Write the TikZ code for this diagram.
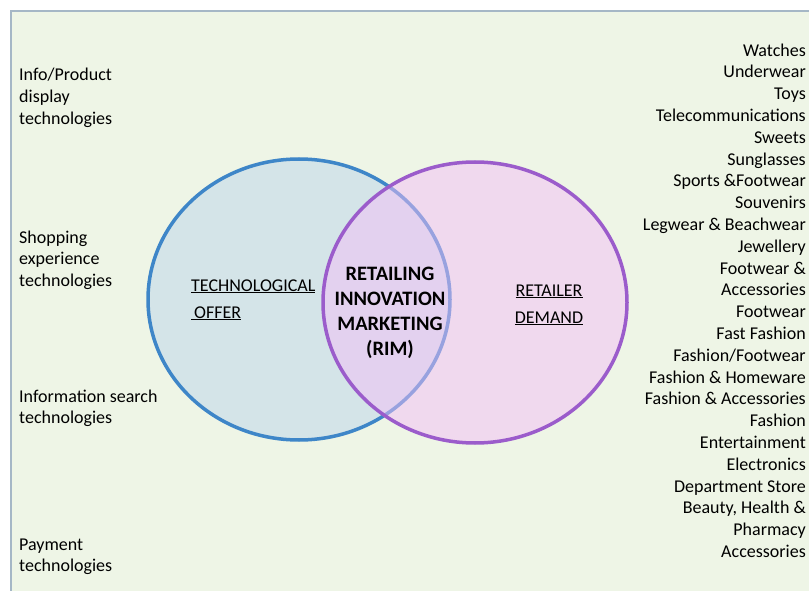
\documentclass[tikz,border=0pt]{standalone}
\usepackage{fontspec}
\setmainfont{Carlito}
\definecolor{paper}{RGB}{238,245,230}
\definecolor{frameline}{RGB}{165,183,198}
\definecolor{offerblue}{RGB}{62,134,200}
\definecolor{offerfill}{RGB}{212,228,232}
\definecolor{demandpurple}{RGB}{155,92,203}
\definecolor{demandfill}{RGB}{242,191,246}

\begin{document}
\begin{tikzpicture}[x=1pt,y=-1pt]
	\tikzset{lbl/.style={inner sep=0pt,font=\fontsize{18}{21.8}\selectfont},
		head/.style={inner sep=0pt,align=center,font=\fontsize{18}{27}\selectfont}}
	\useasboundingbox (0,0) rectangle (809,591);
	\clip (0,0) rectangle (809,591);
	\fill[white] (0,0) rectangle (809,591);
	\draw[frameline,line width=1.5pt,fill=paper] (11,11) rectangle (830,610);
	% the two sets
	\draw[offerblue,line width=3.5pt,fill=offerfill] (299,299.5) ellipse (151pt and 140.5pt);
	\draw[demandpurple,line width=3.5pt,fill=demandfill,fill opacity=0.5] (475,302.5) ellipse (152pt and 140.5pt);
	% labels inside (base = last line)
	\node[head,anchor=base west,align=left] (offer) at (191,318) {\underline{TECHNOLOGICAL}\\\underline{\,OFFER}};
	\node[head,anchor=base] (demand) at (549,323) {\underline{RETAILER}\\\underline{DEMAND}};
	\node[inner sep=0pt,align=center,font=\fontsize{20.5}{24.7}\selectfont\bfseries,anchor=base] (rim) at (390,355)
		{RETAILING\\INNOVATION\\MARKETING\\(RIM)};
	% technologies on the left
	\node[lbl,anchor=base west,align=left] (display) at (19,124.6) {Info/Product\\display\\technologies};
	\node[lbl,anchor=base west,align=left] (shopping) at (19,286.6) {Shopping\\experience\\technologies};
	\node[lbl,anchor=base west,align=left] (search) at (19,423.8) {Information search\\technologies};
	\node[lbl,anchor=base west,align=left] (payment) at (19,571.8) {Payment\\technologies};
	% retail sectors on the right
	\node[lbl,anchor=base east,align=right] (sectors) at (806,557.4) {Watches\\Underwear\\Toys\\Telecommunications\\Sweets\\Sunglasses\\Sports \&Footwear\\Souvenirs\\Legwear \& Beachwear\\Jewellery\\Footwear \&\\Accessories\\Footwear\\Fast Fashion\\Fashion/Footwear\\Fashion \& Homeware\\Fashion \& Accessories\\Fashion\\Entertainment\\Electronics\\Department Store\\Beauty, Health \&\\Pharmacy\\Accessories};
\end{tikzpicture}
\end{document}
